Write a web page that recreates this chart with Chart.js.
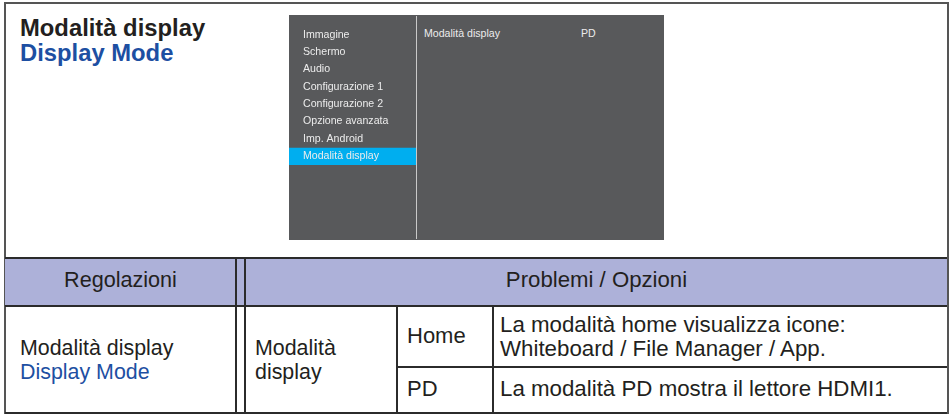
<!DOCTYPE html>
<html>
<head>
<meta charset="utf-8">
<script src="https://cdn.jsdelivr.net/npm/chart.js"></script>
<style>
  html, body { margin: 0; padding: 0; background: #fff; }
  body { width: 950px; height: 414px; position: relative; overflow: hidden;
         font-family: "Liberation Sans", Arial, sans-serif; color: #231f20; }
  .abs { position: absolute; white-space: nowrap; }
  .blue { color: #1d4fa2; }
  .frame { left: 4px; top: 2px; width: 941px; height: 411px; border: 2px solid #555; border-bottom: none; }
  .hline { height: 2px; background: #2b2b2b; }
  .vline { width: 2px; background: #2b2b2b; }
  #osdLeft { left: 289px; top: 15px; width: 127px; height: 225px; background: #58595b; }
  #osdRight { left: 416px; top: 15px; width: 248px; height: 225px; background: #58595b; }
  #osdDivider { left: 416px; top: 16px; width: 1px; height: 223px; background: #c9c9c9; }
  .osdtext { font-size: 10.6px; color: #ececec; line-height: 13px; }
</style>
</head>
<body>

<script>
// page text
const titleIt = 'Modalità display';
const titleEn = 'Display Mode';

// OSD menu entries (left panel) and the selected one
const menuItems = ['Immagine', 'Schermo', 'Audio', 'Configurazione 1', 'Configurazione 2',
                   'Opzione avanzata', 'Imp. Android', 'Modalità display'];
const selectedItem = 'Modalità display';
const subItem = ['Modalità display', 'PD'];

// table
const headers = ['Regolazioni', 'Problemi / Opzioni'];
const settingName = ['Modalità display', 'Display Mode'];
const optionName = ['Modalità', 'display'];
const choices = ['Home', 'PD'];
const descriptions = [
  ['La modalità home visualizza icone:', 'Whiteboard / File Manager / App.'],
  ['La modalità PD mostra il lettore HDMI1.']
];
</script>

<div class="abs frame"></div>

<!-- title -->
<div class="abs" id="title" style="left:20px; top:16px; font-size:23.8px; font-weight:bold; line-height:24.5px;"></div>

<!-- OSD screenshot -->
<div class="abs" id="osdLeft"><canvas id="menuChart" width="127" height="225"></canvas></div>
<div class="abs" id="osdRight"></div>
<div class="abs" id="osdDivider"></div>
<div class="abs osdtext" id="sub0" style="left:424px; top:27px;"></div>
<div class="abs osdtext" id="sub1" style="left:581px; top:27px;"></div>

<!-- table lines -->
<div class="abs" style="left:5px; top:259px; width:942px; height:47px; background:#adb1d9;"></div>
<div class="abs hline" style="left:5px; top:257px; width:942px;"></div>
<div class="abs hline" style="left:5px; top:305px; width:942px;"></div>
<div class="abs hline" style="left:396px; top:366px; width:551px;"></div>
<div class="abs hline" style="left:5px; top:412px; width:942px;"></div>
<div class="abs vline" style="left:235px; top:258px; height:156px;"></div>
<div class="abs vline" style="left:244px; top:258px; height:156px;"></div>
<div class="abs vline" style="left:396px; top:306px; height:108px;"></div>
<div class="abs vline" style="left:492px; top:306px; height:108px;"></div>

<!-- table text -->
<div class="abs" id="h0" style="left:5px; width:231px; text-align:center; top:268px; font-size:21.6px; line-height:24px;"></div>
<div class="abs" id="h1" style="left:246px; width:701px; text-align:center; top:268px; font-size:22.2px; line-height:24px;"></div>
<div class="abs" id="setting" style="left:20px; top:337px; font-size:21.4px; line-height:23.5px;"></div>
<div class="abs" id="option" style="left:255px; top:337px; font-size:21.4px; line-height:23.5px;"></div>
<div class="abs" id="c0" style="left:407px; top:324px; font-size:22px; line-height:24px;"></div>
<div class="abs" id="c1" style="left:407px; top:377px; font-size:22px; line-height:24px;"></div>
<div class="abs" id="d0" style="left:500px; top:313px; font-size:22.3px; line-height:23.5px;"></div>
<div class="abs" id="d1" style="left:500px; top:377px; font-size:22.3px; line-height:24px;"></div>

<script>
document.getElementById('title').innerHTML = titleIt + '<br><span class="blue">' + titleEn + '</span>';
document.getElementById('sub0').textContent = subItem[0];
document.getElementById('sub1').textContent = subItem[1];
document.getElementById('h0').textContent = headers[0];
document.getElementById('h1').textContent = headers[1];
document.getElementById('setting').innerHTML = settingName[0] + '<br><span class="blue">' + settingName[1] + '</span>';
document.getElementById('option').innerHTML = optionName.join('<br>');
document.getElementById('c0').textContent = choices[0];
document.getElementById('c1').textContent = choices[1];
document.getElementById('d0').innerHTML = descriptions[0].join('<br>');
document.getElementById('d1').innerHTML = descriptions[1].join('<br>');

// OSD menu: one horizontal bar marks the selected entry, entries are the y axis labels
const selected = menuItems.map(item => item === selectedItem ? 1 : null);

const ctx = document.getElementById('menuChart');
const menuChart = new Chart(ctx, {
  type: 'bar',
  data: {
    labels: menuItems,
    datasets: [{
      data: selected,
      backgroundColor: '#00aeef',
      borderWidth: 0,
      inflateAmount: 0,
      barPercentage: 1,
      categoryPercentage: 1
    }]
  },
  options: {
    indexAxis: 'y',
    responsive: false,
    animation: false,
    layout: { padding: { top: 11, bottom: 75, left: 0, right: 0 } },
    plugins: { legend: { display: false }, tooltip: { enabled: false } },
    scales: {
      x: { min: 0, max: 1, display: false },
      y: {
        border: { display: false },
        grid: { display: false, drawTicks: false },
        // labels sit inside the panel, so the axis itself takes no room
        afterFit: scale => {
          scale.width = 0;
          scale.paddingTop = 0;
          scale.paddingBottom = 0;
        },
        ticks: {
          z: 1,
          mirror: true,
          padding: 14,
          color: '#ececec',
          font: { family: '"Liberation Sans", Arial, sans-serif', size: 10.6 }
        }
      }
    }
  }
});
</script>
</body>
</html>
